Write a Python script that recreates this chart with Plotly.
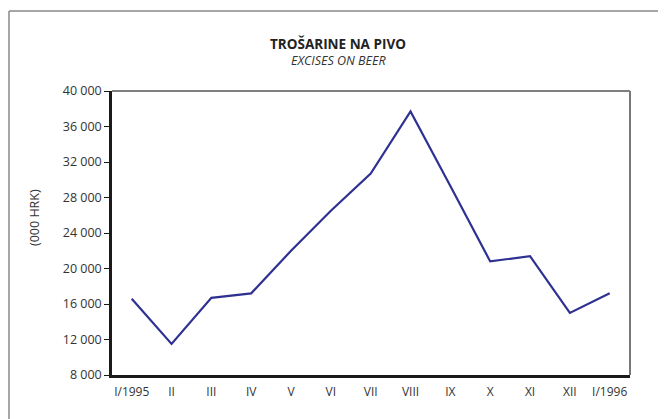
import plotly.graph_objects as go

months = ["I/1995", "II", "III", "IV", "V", "VI", "VII", "VIII", "IX", "X", "XI", "XII", "I/1996"]
excises = [16600, 11500, 16700, 17200, 22000, 26500, 30700, 37700, 29300, 20800, 21400, 15000, 17200]
ytick_vals = [8000, 12000, 16000, 20000, 24000, 28000, 32000, 36000, 40000]
ytick_text = ["8 000", "12 000", "16 000", "20 000", "24 000", "28 000", "32 000", "36 000", "40 000"]

OFF = 8  # page body margin
W, H = 666 - OFF, 419 - OFF
L, R, T, B = 112 - OFF, 630 - OFF, 91 - OFF, 375 - OFF


def px(x):
    return (x - OFF - L) / (R - L)


def py(y):
    return (B - (y - OFF)) / (B - T)


FONT = "Open Sans, Liberation Sans, sans-serif"
TXT = "#333333"

fig = go.Figure()
fig.add_trace(go.Scatter(
    x=months, y=excises, mode="lines",
    line=dict(color="#2E3192", width=2.2),
    hoverinfo="x+y", showlegend=False,
))

fig.update_layout(
    width=W, height=H,
    margin=dict(l=L, r=W - R, t=T, b=H - B),
    paper_bgcolor="white", plot_bgcolor="white",
    font=dict(family=FONT, size=12, color=TXT),
    xaxis=dict(
        type="category", range=[-0.495, 12.51],
        showgrid=False, zeroline=False,
        showline=True, linecolor="#1a1a1a", linewidth=2.5,
        ticks="", tickfont=dict(size=12, color=TXT),
        ticklabelstandoff=4,
        fixedrange=True,
    ),
    yaxis=dict(
        range=[8000, 40000], tickvals=ytick_vals, ticktext=ytick_text,
        showgrid=False, zeroline=False,
        showline=True, linecolor="#1a1a1a", linewidth=2.5,
        ticks="outside", ticklen=5, tickwidth=1, tickcolor="#1a1a1a",
        tickfont=dict(size=12.5, color=TXT),
        fixedrange=True,
    ),
    annotations=[
        dict(text="<b>TROŠARINE NA PIVO</b>", xref="paper", yref="paper",
             x=px(338), y=py(43.5), xanchor="center", yanchor="middle",
             showarrow=False, font=dict(size=13.5, color="#222222", family=FONT)),
        dict(text="<i>EXCISES ON BEER</i>", xref="paper", yref="paper",
             x=px(338), y=py(60), xanchor="center", yanchor="middle",
             showarrow=False, font=dict(size=12.5, color=TXT, family=FONT)),
        dict(text="(000 HRK)", xref="paper", yref="paper",
             x=px(34), y=py(218), xanchor="center", yanchor="middle",
             textangle=-90, showarrow=False, font=dict(size=12.5, color=TXT, family=FONT)),
    ],
    shapes=[
        # plot frame top and right
        dict(type="line", xref="paper", yref="paper", x0=0, y0=1, x1=1, y1=1,
             line=dict(color="#555555", width=1.5)),
        dict(type="line", xref="paper", yref="paper", x0=1, y0=0, x1=1, y1=1,
             line=dict(color="#777777", width=2)),
        # outer frame left and top
        dict(type="line", xref="paper", yref="paper", x0=px(9), y0=py(440), x1=px(9), y1=py(11),
             line=dict(color="#888888", width=1.5)),
        dict(type="line", xref="paper", yref="paper", x0=px(9), y0=py(11), x1=px(690), y1=py(11),
             line=dict(color="#888888", width=1.5)),
    ],
)

fig.write_html("out.html")
